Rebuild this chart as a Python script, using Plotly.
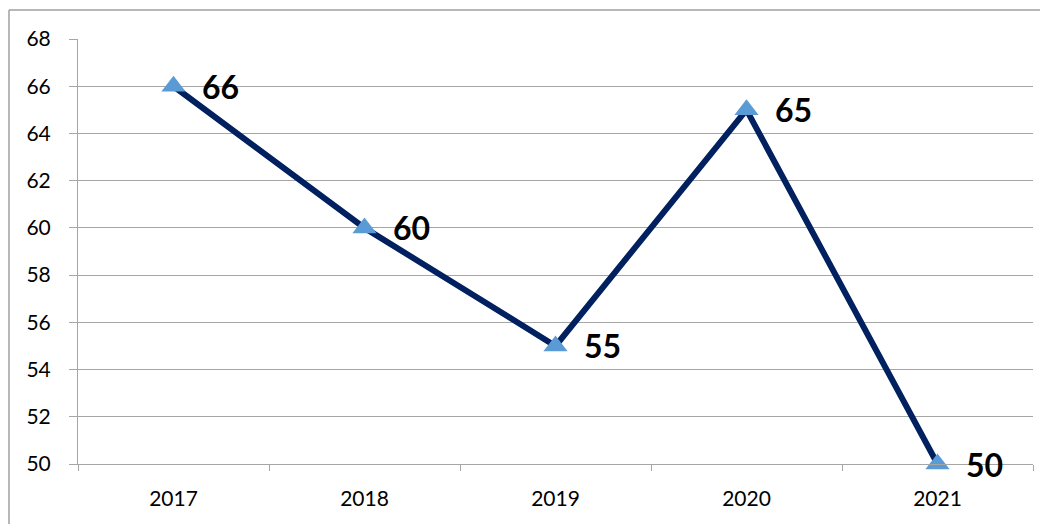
import plotly.graph_objects as go

years = ["2017", "2018", "2019", "2020", "2021"]
values = [66, 60, 55, 65, 50]
y_ticks = [50, 52, 54, 56, 58, 60, 62, 64, 66, 68]

grid = "#A6A6A6"
W, H = 1040, 516
L, R, T, B = 70, 15, 31, 60
PW, PH = W - L - R, H - T - B

fig = go.Figure()
fig.add_trace(go.Scatter(
    x=years, y=values, mode="lines+markers",
    line=dict(color="#002060", width=6),
    marker=dict(symbol="triangle-up", size=21, color="#5B9BD5"),
    cliponaxis=False, showlegend=False,
))

annotations = [
    dict(x=i, y=v, xref="x", yref="y", text="<b>%d</b>" % v, showarrow=False,
         xanchor="left", yanchor="middle", xshift=26, yshift=0,
         font=dict(family="Lato", size=32, color="#000000"))
    for i, v in enumerate(values)
]

fig.update_layout(
    width=W, height=H,
    margin=dict(l=L, r=R, t=T, b=B),
    paper_bgcolor="white", plot_bgcolor="white",
    font=dict(family="Lato", size=21, color="#000000"),
    xaxis=dict(type="category", range=[-0.5, 4.5], showgrid=False,
               ticks="outside", tickson="boundaries", ticklen=6, tickcolor=grid,
               showline=True, linecolor=grid, linewidth=1,
               ticklabelstandoff=16, tickfont=dict(size=21)),
    yaxis=dict(range=[50, 68], tickvals=y_ticks, showgrid=True, gridcolor=grid,
               gridwidth=1, ticks="outside", ticklen=8, tickcolor=grid,
               showline=True, linecolor=grid, linewidth=1, zeroline=False,
               ticklabelstandoff=14, tickfont=dict(size=21)),
    annotations=annotations,
    shapes=[
        dict(type="line", xref="paper", yref="paper",
             x0=(1 - L) / PW, x1=(W - L) / PW,
             y0=(T + PH - 2) / PH, y1=(T + PH - 2) / PH,
             line=dict(color="#A0A0A0", width=1.5)),
        dict(type="line", xref="paper", yref="paper",
             x0=(1 - L) / PW, x1=(1 - L) / PW,
             y0=(T + PH - 2) / PH, y1=(T + PH - H) / PH,
             line=dict(color="#A0A0A0", width=1.5)),
    ],
)

fig.write_html("out.html")
